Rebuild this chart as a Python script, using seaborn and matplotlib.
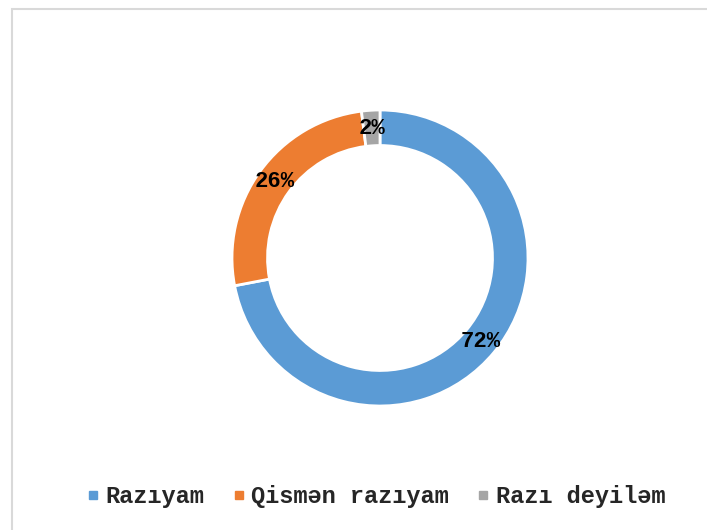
import matplotlib
matplotlib.use("Agg")
import matplotlib.pyplot as plt
from matplotlib.lines import Line2D
from matplotlib.patches import Rectangle
import seaborn as sns

labels = ['Razıyam', 'Qismən razıyam', 'Razı deyiləm']
values = [72, 26, 2]
colors = ['#5B9BD5', '#ED7D31', '#A5A5A5']

sns.set_theme(style="white")
plt.rcParams['font.family'] = ['Liberation Mono', 'DejaVu Sans Mono']

fig = plt.figure(figsize=(7.07, 5.30), dpi=100)
fig.patch.set_facecolor('white')

# chart border (cut at the right and bottom like the source)
fig.add_artist(Rectangle((12 / 707, -0.1), 1.2, (530 - 9) / 530 + 0.1,
                         transform=fig.transFigure, fill=False,
                         edgecolor='#D9D9D9', linewidth=1.5))

ax = fig.add_axes([195 / 707, 87 / 530, 370 / 707, 370 / 530])
pal = sns.color_palette(colors)
wedges, texts, autotexts = ax.pie(
    values, colors=pal, startangle=90, counterclock=False,
    autopct='%d%%', pctdistance=0.88,
    wedgeprops=dict(width=0.24, edgecolor='white', linewidth=2),
    textprops=dict(fontsize=16, fontweight='bold', color='black'))
ax.set_xlim(-1.25, 1.25)
ax.set_ylim(-1.25, 1.25)
ax.set_aspect('equal')
ax.axis('off')

handles = [Line2D([], [], marker='s', linestyle='none', markersize=5.5,
                  markerfacecolor=c, markeredgecolor=c) for c in colors]
fig.legend(handles, labels, loc='center', bbox_to_anchor=(376 / 707, 33 / 530),
           ncol=3, frameon=False, handlelength=0.5, handletextpad=0.28,
           columnspacing=1.2, prop=dict(size=17, weight='bold'))

fig.savefig('out.png', dpi=100)
